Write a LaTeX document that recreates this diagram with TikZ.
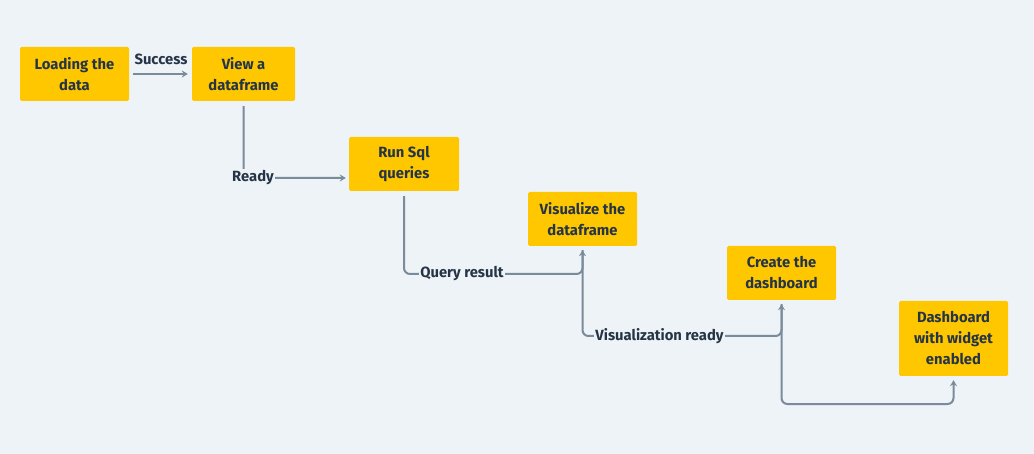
\documentclass[tikz,border=0pt]{standalone}
\usepackage{fontspec}
\setmainfont{Fira Sans}
\usetikzlibrary{arrows.meta}
\definecolor{bgc}{HTML}{EEF3F7}
\definecolor{boxc}{HTML}{FFC700}
\definecolor{txtc}{HTML}{253446}
\definecolor{linec}{HTML}{7A8B9B}
\tikzset{
  stepbox/.style={rectangle, rounded corners=1.5pt, fill=boxc, text=txtc,
    font=\fontsize{14.8}{21}\selectfont\bfseries, align=center,
    minimum width=109pt, minimum height=54pt, inner sep=2pt},
  conn/.style={draw=linec, line width=2pt, rounded corners=6pt,
    -{Stealth[length=6pt,width=7pt]}},
  lbl/.style={fill=bgc, text=txtc, font=\fontsize{14.8}{17}\selectfont\bfseries, inner sep=1.5pt}
}
\begin{document}
\begin{tikzpicture}[x=1pt,y=-1pt]
\fill[bgc] (0,0) rectangle (1034,454);
\useasboundingbox (0,0) rectangle (1034,454);

\node[stepbox] (n1) at (74.5,74) {Loading the\\data};
\node[stepbox, minimum width=103pt] (n2) at (243.5,74) {View a\\dataframe};
\node[stepbox, minimum width=110pt] (n3) at (404,164) {Run Sql\\queries};
\node[stepbox] (n4) at (582.5,219) {Visualize the\\dataframe};
\node[stepbox] (n5) at (781.5,273) {Create the\\dashboard};
\node[stepbox, minimum height=75pt] (n6) at (953.5,338.5) {Dashboard\\with widget\\enabled};

% 1 -> 2
\draw[conn] ([xshift=4pt]n1.east) -- ([xshift=-4pt]n2.east -| n2.west);
\node[lbl, fill=none] (l1) at (161,59) {Success};

% 2 -> 3
\draw[conn] ([yshift=-5pt]n2.south) |- ([xshift=-3pt,yshift=-14pt]n3.west);
\node[lbl] (l2) at (253,178) {Ready};

% 3 -> 4
\draw[conn] ([yshift=-5pt]n3.south) -- (n3.south |- 0,274) -- (n4.south |- 0,274) -- ([yshift=-4pt]n4.south);
\node[lbl] (l3) at (462,274) {Query result};

% 4 -> 5
\draw[conn] ([yshift=-4pt]n4.south) -- (n4.south |- 0,336) -- (n5.south |- 0,336) -- ([yshift=-4pt]n5.south);
\node[lbl] (l4) at (659.5,336) {Visualization ready};

% 5 -> 6
\draw[conn] ([yshift=-4pt]n5.south) -- (n5.south |- 0,404) -- (n6.south |- 0,404) -- ([yshift=-4pt]n6.south);
\end{tikzpicture}
\end{document}
